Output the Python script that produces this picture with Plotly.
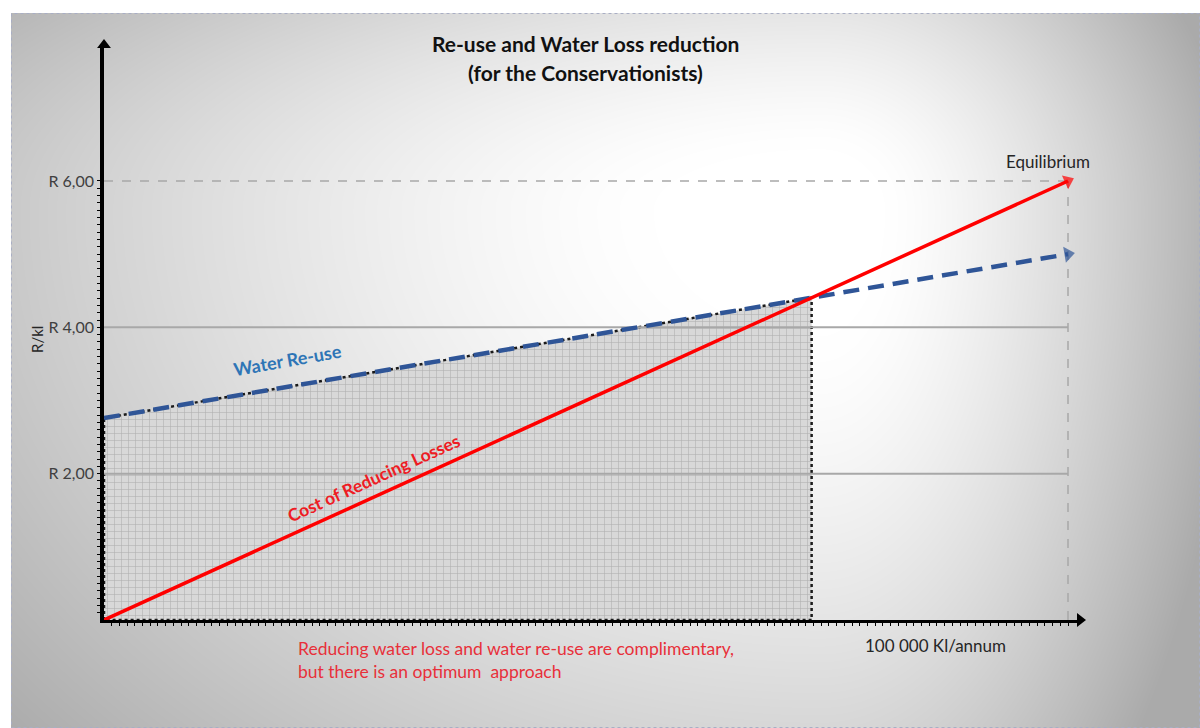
import base64, struct, zlib
import numpy as np
import plotly.graph_objects as go

# ---------------- data ----------------
x_pts = [0.0, 1.0]                 # start / equilibrium (100 000 Kl/annum)
reuse_cost = [2.76, 5.0]           # Water Re-use (R/kl)
loss_cost = [0.0, 6.0]             # Cost of Reducing Losses (R/kl)
y_ticks = [2, 4, 6]
y_tick_labels = ["R 2,00", "R 4,00", "R 6,00"]
title_lines = ["Re-use and Water Loss reduction", "(for the Conservationists)"]
note_lines = ["Reducing water loss and water re-use are complimentary,",
              "but there is an optimum  approach"]

# intersection (optimum) from the two lines
s_r = (reuse_cost[1] - reuse_cost[0]) / (x_pts[1] - x_pts[0])
s_l = (loss_cost[1] - loss_cost[0]) / (x_pts[1] - x_pts[0])
x_opt = (reuse_cost[0] - loss_cost[0]) / (s_l - s_r)
y_opt = loss_cost[0] + s_l * x_opt

# ---------------- layout geometry ----------------
W, H = 1200, 728
ML, MR, MT, MB = 104, 120, 45, 108
PW, PH = W - ML - MR, H - MT - MB
px_per_x = 964.0
px_per_y = 73.17
x_max = PW / px_per_x
y_max = PH / px_per_y


def px(xp):
    return (xp - ML) / PW


def py(yp):
    return (H - MB - yp) / PH


# ---------------- background gradient (PNG) ----------------
yy, xx = np.mgrid[0:H, 0:W].astype(float)
cx, cy = 820.0, 210.0
dx = xx - cx
dy = yy - cy
sx = np.where(dx < 0, 980.0, 380.0)
sy = np.where(dy < 0, 360.0, 740.0)
r = np.sqrt((dx / sx) ** 2 + (dy / sy) ** 2)
t = np.clip((r - 0.17) / 0.93, 0, 1)
v = 255 - 85 * t ** 1.35
v[(xx < 11) | (yy < 13)] = 255
img = np.clip(v, 0, 255).astype(np.uint8)
raw = b"".join(b"\x00" + img[i].tobytes() for i in range(H))


def chunk(tag, data):
    return struct.pack(">I", len(data)) + tag + data + struct.pack(">I", zlib.crc32(tag + data) & 0xFFFFFFFF)


png = (b"\x89PNG\r\n\x1a\n" + chunk(b"IHDR", struct.pack(">IIBBBBB", W, H, 8, 0, 0, 0, 0))
       + chunk(b"IDAT", zlib.compress(raw, 9)) + chunk(b"IEND", b""))
src = "data:image/png;base64," + base64.b64encode(png).decode()

FONT = "Lato"
fig = go.Figure()

# shaded optimum region
fig.add_trace(go.Scatter(
    x=[x_pts[0], x_pts[0], x_opt, x_opt, x_pts[0]],
    y=[0, reuse_cost[0], y_opt, 0, 0],
    mode="lines", fill="toself",
    fillcolor="#d6d6d6",
    fillpattern=dict(shape="+", size=7, solidity=0.16, fgcolor="#b0b0b0", bgcolor="#d8d8d8", fillmode="replace"),
    line=dict(color="#1a1a1a", width=2.5, dash="dot"),
    hoverinfo="skip", showlegend=False))

# horizontal guide lines
for val in y_ticks:
    fig.add_trace(go.Scatter(
        x=[x_pts[0], x_pts[1]], y=[val, val], mode="lines",
        line=dict(color="#a8a8a8", width=1.5 if val == 6 else 2, dash="dash" if val == 6 else "solid"),
        hoverinfo="skip", showlegend=False))

# vertical equilibrium line
fig.add_trace(go.Scatter(
    x=[x_pts[1], x_pts[1]], y=[0, loss_cost[1]], mode="lines",
    line=dict(color="#a8a8a8", width=1.5, dash="dash"), hoverinfo="skip", showlegend=False))

# Water re-use line (dashed blue, arrow)
fig.add_trace(go.Scatter(
    x=x_pts, y=reuse_cost, mode="lines+markers",
    line=dict(color="#2f5597", width=4.5, dash="16px,9px"),
    marker=dict(symbol=["circle", "triangle-up"], size=[0, 14], angleref="previous", color="#2f5597",
                line=dict(width=0)),
    cliponaxis=False, hoverinfo="skip", showlegend=False))

# Cost of reducing losses (red, arrow)
fig.add_trace(go.Scatter(
    x=x_pts, y=loss_cost, mode="lines+markers",
    line=dict(color="#ff0000", width=3.5),
    marker=dict(symbol=["circle", "triangle-up"], size=[0, 13], angleref="previous", color="#ff0000",
                line=dict(width=0)),
    cliponaxis=False, hoverinfo="skip", showlegend=False))

# axis arrowheads
fig.add_trace(go.Scatter(
    x=[0, x_max], y=[y_max, 0], mode="markers",
    marker=dict(symbol=["triangle-up", "triangle-right"], size=12, color="black"),
    cliponaxis=False, hoverinfo="skip", showlegend=False))


def ann(x, y, text, size, color, **kw):
    d = dict(xref="paper", yref="paper", x=px(x), y=py(y), text=text, showarrow=False,
             xanchor="center", yanchor="middle", font=dict(family=FONT, size=size, color=color))
    d.update(kw)
    return d


anns = [
    ann(585, 43, "<b>" + title_lines[0] + "</b>", 21, "#111111"),
    ann(585, 72, "<b>" + title_lines[1] + "</b>", 21, "#111111"),
    ann(287, 360, "<b>Water Re-use</b>", 18, "#2e75b6", textangle=-10),
    ann(373, 478, "<b>Cost of Reducing Losses</b>", 17.5, "#ee1c24", textangle=-24.4),
    ann(1048, 161, "Equilibrium", 17, "#262626"),
    ann(935, 645, "100 000 Kl/annum", 17, "#262626"),
    ann(296, 660, "<br>".join(note_lines), 17.5, "#e8303a", xanchor="left", align="left"),
    ann(37, 340, "R/kl", 15, "#262626", textangle=-90),
]

fig.update_layout(
    width=W, height=H, autosize=False,
    margin=dict(l=ML, r=MR, t=MT, b=MB, pad=0),
    paper_bgcolor="white", plot_bgcolor="rgba(0,0,0,0)",
    images=[dict(source=src, xref="paper", yref="paper", x=-ML / PW, y=(H - MB) / PH,
                 sizex=W / PW, sizey=H / PH, xanchor="left", yanchor="top",
                 sizing="stretch", layer="below")],
    shapes=[dict(type="rect", xref="paper", yref="paper",
                 x0=px(11.5), x1=px(1199.5), y0=py(727.5), y1=py(13.5),
                 line=dict(color="#a9aec4", width=1, dash="dot"), layer="below")],
    annotations=anns,
    showlegend=False,
)
x_minor = [round(i * 0.008, 4) for i in range(1, 126)]
y_minor = [round(i * 0.1, 2) for i in range(1, 60)]
fig.update_xaxes(range=[0, x_max], showgrid=False, zeroline=False, showline=True,
                 linecolor="black", linewidth=2.5, ticks="", showticklabels=False,
                 minor=dict(ticks="outside", ticklen=3, tickcolor="black", tickmode="array",
                            tickvals=x_minor, showgrid=False))
fig.update_yaxes(range=[0, y_max], showgrid=False, zeroline=False, showline=True,
                 linecolor="black", linewidth=3.5, tickvals=y_ticks, ticktext=y_tick_labels,
                 ticks="outside", ticklen=3, tickcolor="black",
                 tickfont=dict(family=FONT, size=16, color="#404040"),
                 minor=dict(ticks="outside", ticklen=3, tickcolor="black", tickmode="array",
                            tickvals=y_minor, showgrid=False))

fig.write_html("out.html")
